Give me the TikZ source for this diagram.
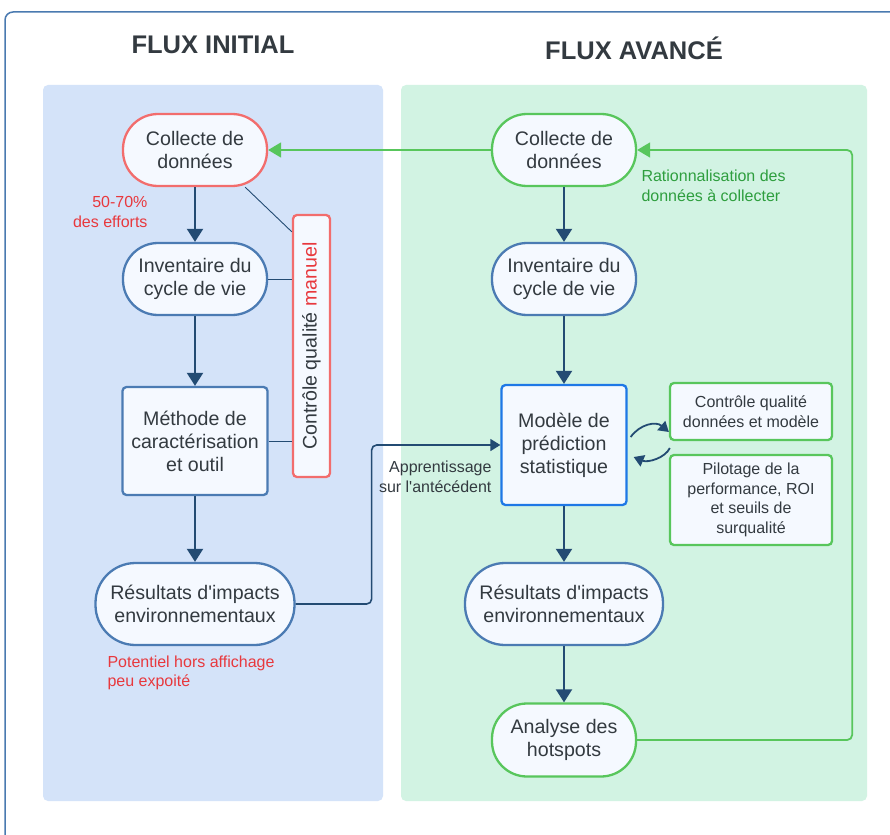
\documentclass[tikz,border=0pt]{standalone}
\usepackage{fontspec}
\setmainfont{Liberation Sans}[Ligatures=TeXOff]
\usetikzlibrary{arrows.meta,calc}
\definecolor{frameC}{HTML}{4A7AB0}
\definecolor{panelB}{HTML}{D4E3F9}
\definecolor{panelG}{HTML}{D2F3E3}
\definecolor{nodeF}{HTML}{F5F9FF}
\definecolor{blueB}{HTML}{4B7BB3}
\definecolor{brightB}{HTML}{1E78E6}
\definecolor{redB}{HTML}{F26D6D}
\definecolor{greenB}{HTML}{58C65C}
\definecolor{arrC}{HTML}{234B73}
\definecolor{txtC}{HTML}{333A40}
\definecolor{redT}{HTML}{E8383D}
\definecolor{greenT}{HTML}{2E9E3E}
\tikzset{
  big/.style={font=\fontsize{19.6}{23}\selectfont, text=txtC, align=center},
  small/.style={font=\fontsize{16}{19.5}\selectfont, text=txtC, align=center},
  stad/.style={big, draw, fill=nodeF, line width=2.3pt, rounded corners=35pt, minimum width=144pt, minimum height=72pt, inner sep=0pt},
  boxn/.style={big, draw, fill=nodeF, line width=2.3pt, rounded corners=4pt, inner sep=0pt},
  arr/.style={draw=arrC, line width=2pt, -{Triangle[width=16pt,length=13pt]}},
  arrs/.style={draw=arrC, line width=1.8pt, -{Triangle[width=12pt,length=10pt]}},
  garr/.style={draw=greenB, line width=1.8pt, -{Triangle[width=15pt,length=13pt]}},
  thinl/.style={draw=arrC, line width=0.9pt},
}
\begin{document}
\begin{tikzpicture}[x=1pt,y=-1pt]
\useasboundingbox (0,0) rectangle (890,834);
\fill[white] (0,0) rectangle (890,834);
\begin{scope}
\clip (0,0) rectangle (890,834);
\draw[frameC, line width=1.5pt, rounded corners=8pt] (5,12) rectangle (920,870);
\end{scope}
% panels
\fill[panelB, rounded corners=5pt] (43,85) rectangle (383,801);
\fill[panelG, rounded corners=5pt] (401,85) rectangle (867,801);
% titles
\node[font=\fontsize{25.5}{29}\bfseries, text=txtC] (t1) at (213,45) {FLUX INITIAL};
\node[font=\fontsize{25.5}{29}\bfseries, text=txtC] (t2) at (634,48) {FLUX AVANCÉ};
% left column
\node[stad, draw=redB] (lc) at (195,150) {Collecte de\\données};
\node[stad, draw=blueB] (li) at (195,279) {Inventaire du\\cycle de vie};
\node[boxn, draw=blueB, minimum width=145pt, minimum height=108pt] (lm) at (195,441) {Méthode de\\caractérisation\\et outil};
\node[stad, draw=blueB, minimum width=199pt, minimum height=82pt, rounded corners=40pt] (lr) at (195,604) {Résultats d'impacts\\environnementaux};
\node[draw=redB, fill=nodeF, line width=2.3pt, rounded corners=4pt, minimum width=37pt, minimum height=262pt, inner sep=0pt] (qc) at (311.5,346) {};
\node[big, rotate=90] (qct) at (qc.center) {Contrôle qualité \textcolor{redT}{manuel}};
% left connectors
\draw[arr] (lc) -- (li);
\draw[arr] (li) -- (lm);
\draw[arr] (lm) -- (lr);
\draw[thinl] ($(lc.south east)+(-23,0)$) -- ($(qc.north west)+(0,18)$);
\draw[thinl] (li.east) -- (li.east -| qc.west);
\draw[thinl] (lm.east) -- (lm.east -| qc.west);
\node[font=\fontsize{16}{19.5}\selectfont, text=redT, align=right, anchor=east] (eff) at (151,212) {50-70\%\\des efforts};
\node[font=\fontsize{16}{19.5}\selectfont, text=redT, align=left, anchor=west] (pot) at (104,673) {Potentiel hors affichage\\peu expoité};
% right column
\node[stad, draw=greenB] (rc) at (564,150) {Collecte de\\données};
\node[stad, draw=blueB] (ri) at (564,279) {Inventaire du\\cycle de vie};
\node[boxn, draw=brightB, minimum width=125pt, minimum height=120pt] (rm) at (564,445) {Modèle de\\prédiction\\statistique};
\node[stad, draw=blueB, minimum width=198pt, minimum height=82pt, rounded corners=40pt] (rr) at (564,604) {Résultats d'impacts\\environnementaux};
\node[stad, draw=greenB, minimum height=73pt] (ra) at (564,740) {Analyse des\\hotspots};
\node[small, draw=greenB, fill=nodeF, line width=2.3pt, rounded corners=4pt, minimum width=162pt, minimum height=57pt, inner sep=0pt] (qd) at (751,411.5) {Contrôle qualité\\données et modèle};
\node[small, draw=greenB, fill=nodeF, line width=2.3pt, rounded corners=4pt, minimum width=162pt, minimum height=90pt, inner sep=0pt] (pl) at (751,500) {Pilotage de la\\performance, ROI\\et seuils de\\surqualité};
% right connectors
\draw[arr] (rc) -- (ri);
\draw[arr] (ri) -- (rm);
\draw[arr] (rm) -- (rr);
\draw[arr] (rr) -- (ra);
\draw[arrs, line width=1.6pt, rounded corners=5pt] (lr.east) -- ++(76,0) |- (rm.west);
\node[small, align=right, anchor=east] (app) at (495,477) {Apprentissage\\sur l'antécédent};
\draw[garr, rounded corners=5pt] (ra.east) -- ++(215,0) |- (rc.east);
\draw[garr] (rc.west) -- (lc.east);
\node[font=\fontsize{16}{19.5}\selectfont, text=greenT, align=left, anchor=west] (rat) at (638,186) {Rationnalisation des\\données à collecter};
% curved arrows
\coordinate (c1) at ($(rm.east)+(3,-8)$);
\coordinate (c2) at ($(qd.west)+(0,20.5)$);
\draw[arrs] (c1) .. controls (640,424) and (656,421) .. (c2);
\coordinate (c3) at ($(pl.west)+(1,-52)$);
\coordinate (c4) at ($(rm.east)+(6,12)$);
\draw[arrs] (c3) .. controls (665,458) and (648,463) .. (c4);
\end{tikzpicture}
\end{document}
